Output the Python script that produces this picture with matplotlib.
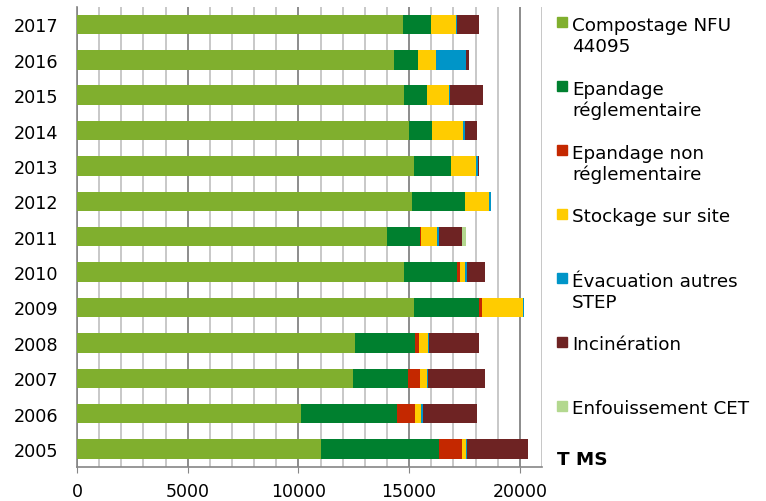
import numpy as np
import matplotlib
matplotlib.use('Agg')
import matplotlib.pyplot as plt
from matplotlib.ticker import MultipleLocator

years = ['2005', '2006', '2007', '2008', '2009', '2010', '2011',
         '2012', '2013', '2014', '2015', '2016', '2017']

# tonnes of dry matter per treatment route
compostage = [11010, 10120, 12485, 12545, 15210, 14790, 14020,
              15120, 15240, 14985, 14760, 14310, 14730]
epandage = [5345, 4350, 2470, 2725, 2940, 2365, 1475,
            2410, 1660, 1055, 1040, 1085, 1265]
epandage_non = [1025, 800, 525, 180, 135, 135, 60,
                0, 0, 0, 0, 0, 0]
stockage = [210, 255, 315, 390, 1850, 255, 725,
            1070, 1130, 1400, 995, 800, 1115]
evacuation = [45, 90, 60, 45, 75, 75, 60,
              80, 60, 75, 60, 1370, 50]
incineration = [2740, 2440, 2575, 2290, 0, 815, 1055,
                0, 45, 540, 1505, 150, 980]
enfouissement = [0, 0, 0, 0, 0, 0, 195,
                 0, 0, 0, 0, 0, 0]

series = [
    ('Compostage NFU\n44095', compostage, '#80AF2E'),
    ('Epandage\nréglementaire', epandage, '#00802F'),
    ('Epandage non\nréglementaire', epandage_non, '#C42800'),
    ('Stockage sur site', stockage, '#FFCC00'),
    ('Évacuation autres\nSTEP', evacuation, '#0095C8'),
    ('Incinération', incineration, '#6E2323'),
    ('Enfouissement CET', enfouissement, '#B3D88F'),
]

plt.rcParams['font.family'] = 'DejaVu Sans'

fig = plt.figure(figsize=(7.66, 5.02), dpi=100)
ax = fig.add_axes([0.1005, 0.0683, 0.607, 0.9163])

y = np.arange(len(years))
left = np.zeros(len(years))
for name, vals, color in series:
    vals = np.array(vals, dtype=float)
    ax.barh(y, vals, left=left, height=0.55, color=color, zorder=3)
    left += vals

ax.set_ylim(-0.5, len(years) - 0.5)
ax.set_xlim(0, 21000)
ax.set_yticks(y)
ax.set_yticklabels(years, fontsize=12.7)
ax.set_xticks([0, 5000, 10000, 15000, 20000])
ax.xaxis.set_minor_locator(MultipleLocator(1000))
ax.tick_params(axis='x', which='major', labelsize=12.5, length=4.3,
               color='#868686', pad=7)
ax.tick_params(axis='x', which='minor', length=0)
ax.tick_params(axis='y', length=0, pad=13.5)

ax.grid(axis='x', which='minor', color='#C8C8C8', lw=1.4, zorder=0)
ax.grid(axis='x', which='major', color='#8C8C8C', lw=1.4, zorder=0)
ax.axvline(21000, color='#C8C8C8', lw=1.4, zorder=0)

for s in ['top', 'right']:
    ax.spines[s].set_visible(False)
for s in ['left', 'bottom']:
    ax.spines[s].set_color('#868686')
    ax.spines[s].set_linewidth(1.2)

# legend, laid out like the spreadsheet one (fixed slots, first line aligned)
W, H = 766, 502
line_px = 22
for i, (name, vals, color) in enumerate(series):
    base = 30 + 64 * i
    last = base + line_px * name.count('\n')
    fig.patches.append(plt.Rectangle((557 / W, 1 - (base - 1.7) / H), 10 / W, 10 / H,
                                     transform=fig.transFigure, color=color))
    fig.text(572 / W, 1 - last / H, name, fontsize=13.2, va='baseline',
             ha='left', linespacing=1.2)

fig.text(557 / W, 1 - 465 / H, 'T MS', fontsize=13.2, fontweight='bold',
         va='baseline', ha='left')

fig.savefig('out.png', dpi=100)
